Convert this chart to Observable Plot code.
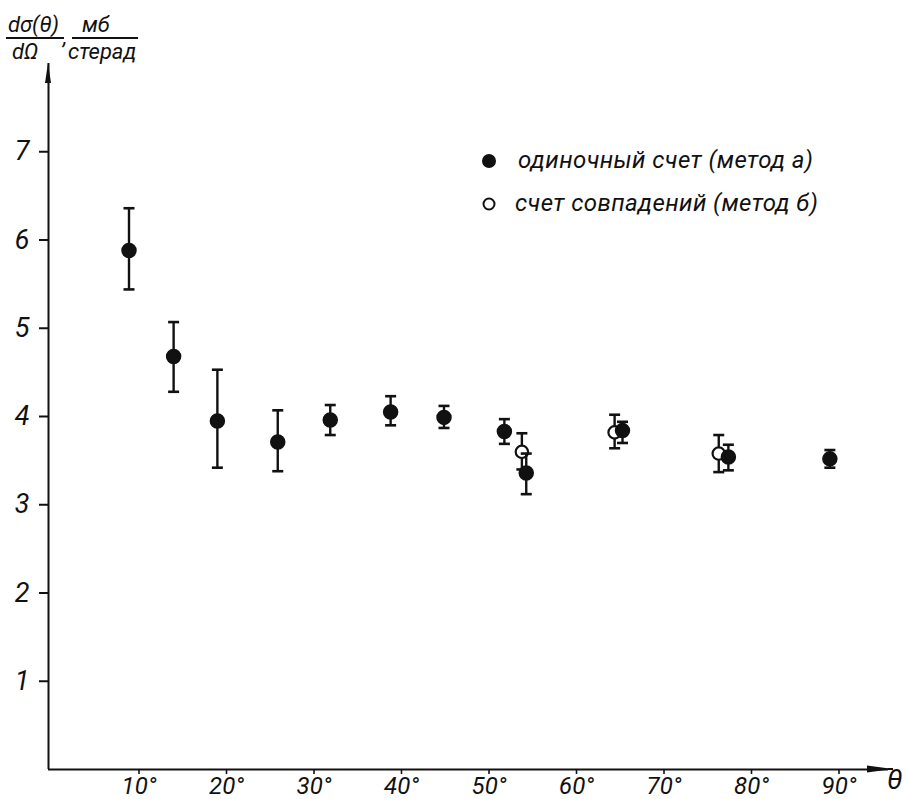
<!DOCTYPE html>
<html><head><meta charset="utf-8">
<script src="https://cdn.jsdelivr.net/npm/d3@7"></script>
<script src="https://cdn.jsdelivr.net/npm/@observablehq/plot@0.6"></script>
<style>
body{margin:0;background:#fff}
#chart{width:907px;height:799px;position:relative}
</style>
</head><body><div id="chart"></div>
<script>
// одиночный счет (метод а)
const singleAngle = [9.2, 14.3, 19.3, 26.2, 32.2, 39.1, 45.2, 52.1, 54.6, 65.6, 77.7, 89.3];
const singleValue = [5.88, 4.68, 3.95, 3.71, 3.96, 4.05, 3.99, 3.83, 3.36, 3.84, 3.54, 3.52];
const singleLow   = [5.44, 4.28, 3.42, 3.38, 3.79, 3.90, 3.87, 3.69, 3.12, 3.70, 3.39, 3.42];
const singleHigh  = [6.36, 5.07, 4.53, 4.07, 4.13, 4.23, 4.12, 3.97, 3.58, 3.94, 3.68, 3.62];
// счет совпадений (метод б)
const coincAngle = [54.1, 64.7, 76.6];
const coincValue = [3.60, 3.82, 3.58];
const coincLow   = [3.40, 3.64, 3.37];
const coincHigh  = [3.81, 4.02, 3.79];

const xTicks = [10, 20, 30, 40, 50, 60, 70, 80, 90];
const yTicks = [1, 2, 3, 4, 5, 6, 7];
const xDomain = [0, 96];
const yDomain = [0, 8];
const legendLabels = ["одиночный счет (метод а)", "счет совпадений (метод б)"];
const xLabel = "θ";

const single = singleAngle.map((a, i) => ({angle: a, value: singleValue[i], lo: singleLow[i], hi: singleHigh[i]}));
const coinc = coincAngle.map((a, i) => ({angle: a, value: coincValue[i], lo: coincLow[i], hi: coincHigh[i]}));

const cap = {draw(ctx, size) { const w = Math.sqrt(size / Math.PI); ctx.moveTo(-w, 0); ctx.lineTo(w, 0); }};
const FONT = "Roboto, 'DejaVu Sans', sans-serif";

function errMarks(data) {
  return [
    Plot.ruleX(data, {x: "angle", y1: "lo", y2: "hi", stroke: "#111", strokeWidth: 2.4}),
    Plot.dot(data, {x: "angle", y: "lo", symbol: cap, r: 5.5, stroke: "#111", strokeWidth: 2.6, fill: "none"}),
    Plot.dot(data, {x: "angle", y: "hi", symbol: cap, r: 5.5, stroke: "#111", strokeWidth: 2.6, fill: "none"})
  ];
}

const plot = Plot.plot({
  width: 907, height: 799,
  marginLeft: 48, marginRight: 19, marginTop: 63, marginBottom: 30,
  style: {fontFamily: FONT, fontStyle: "italic", color: "#111", background: "#fff"},
  x: {domain: xDomain},
  y: {domain: yDomain},
  marks: [
    Plot.axisX(xTicks, {tickFormat: d => d + "°", tickSize: 5, tickPadding: 2, fontSize: 24, strokeWidth: 1.6, dx: 3, label: null}),
    Plot.axisY(yTicks, {tickFormat: d => String(d), tickSize: 9, tickPadding: 10, fontSize: 27, strokeWidth: 2, label: null}),
    Plot.ruleY([0], {stroke: "#111", strokeWidth: 2}),
    Plot.ruleX([0], {stroke: "#111", strokeWidth: 2}),
    ...errMarks(coinc),
    Plot.dot(coinc, {x: "angle", y: "value", r: 6.2, fill: "#fff", stroke: "#111", strokeWidth: 2.2}),
    ...errMarks(single),
    Plot.dot(single, {x: "angle", y: "value", r: 7, fill: "#111", stroke: "#111"})
  ]
});
document.getElementById("chart").appendChild(plot);

const svg = d3.select(plot);
svg.selectAll('[aria-label="x-axis tick label"]').attr("font-size", 24);
svg.selectAll('[aria-label="y-axis tick label"]').attr("font-size", 27);

const sx = plot.scale("x"), sy = plot.scale("y");
const x0 = sx.apply(0), y0 = sy.apply(0);
const xEnd = sx.apply(xDomain[1]) + 5, yEnd = sy.apply(yDomain[1]);
// axis extensions & arrowheads
svg.append("line").attr("x1", sx.range[1]).attr("x2", xEnd).attr("y1", y0).attr("y2", y0).attr("stroke", "#111").attr("stroke-width", 2);
svg.append("path").attr("d", `M${xEnd},${y0} L${xEnd - 26},${y0 - 3.5} L${xEnd - 26},${y0 + 3.5} Z`).attr("fill", "#111");
svg.append("path").attr("d", `M${x0},${yEnd} L${x0 - 3},${yEnd + 20} L${x0 + 3},${yEnd + 20} Z`).attr("fill", "#111");
svg.append("text").attr("text-anchor", "start").attr("x", xEnd - 6).attr("y", y0 + 20).attr("font-size", 28).attr("font-style", "italic").attr("fill", "#111").text(xLabel);

// y-axis title as fraction
const tg = svg.append("g").attr("font-style", "italic").attr("fill", "#111").attr("font-size", 22).attr("text-anchor", "start");
tg.append("text").attr("x", 8).attr("y", 32).text("dσ(θ)");
tg.append("text").attr("x", 12).attr("y", 59).text("dΩ");
tg.append("text").attr("x", 63).attr("y", 44).text(",");
tg.append("text").attr("x", 82).attr("y", 32).text("мб");
tg.append("text").attr("x", 68).attr("y", 59).text("стерад");
tg.append("line").attr("x1", 6).attr("x2", 64).attr("y1", 38).attr("y2", 38).attr("stroke", "#111").attr("stroke-width", 1.8);
tg.append("line").attr("x1", 72).attr("x2", 138).attr("y1", 38).attr("y2", 38).attr("stroke", "#111").attr("stroke-width", 1.8);

// legend
const lg = svg.append("g").attr("font-style", "italic").attr("fill", "#111").attr("font-size", 24).attr("letter-spacing", 0.4).attr("text-anchor", "start");
lg.append("circle").attr("cx", 489).attr("cy", 161).attr("r", 7).attr("fill", "#111");
lg.append("text").attr("x", 518).attr("y", 168).text(legendLabels[0]);
lg.append("circle").attr("cx", 489).attr("cy", 204).attr("r", 5.5).attr("fill", "#fff").attr("stroke", "#111").attr("stroke-width", 2);
lg.append("text").attr("x", 515).attr("y", 211).text(legendLabels[1]);
</script>
</body></html>
